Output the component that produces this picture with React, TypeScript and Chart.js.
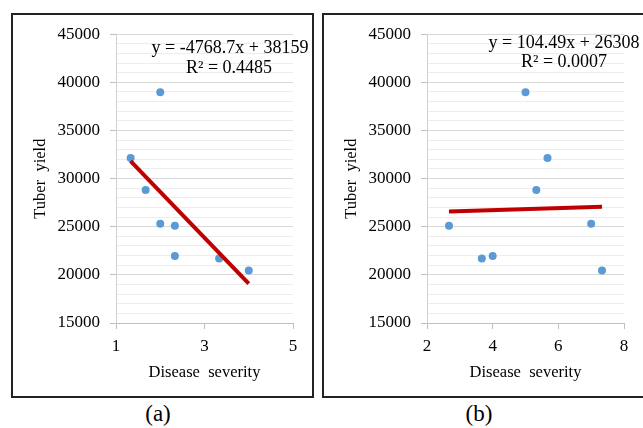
import React, { useEffect, useRef } from "react";
import { Chart, registerables } from "chart.js";

Chart.register(...registerables);

// ---- data ----
const severityA = [1.33, 1.67, 2.0, 2.0, 2.33, 2.33, 3.33, 4.0];
const severityB = [5.67, 5.33, 5.0, 7.0, 2.67, 4.0, 3.67, 7.33];
const tuberYield = [32140, 28820, 38970, 25300, 25100, 21950, 21700, 20450];

const slopeA = -4768.7;
const interceptA = 38159;
const r2A = "0.4485";
const slopeB = 104.49;
const interceptB = 26308;
const r2B = "0.0007";

const yMin = 15000;
const yMax = 45000;
const yMajorStep = 5000;
const yMinorStep = 1000;
const xRangeA = [1, 5];
const xRangeB = [2, 8];
const xStep = 2;

const FONT = '"Liberation Serif", "Times New Roman", serif';

const eqPlugin = {
  id: "eqText",
  afterDatasetsDraw(chart: any, _args: any, opts: any) {
    const ctx = chart.ctx;
    ctx.save();
    ctx.font = `18px ${FONT}`;
    ctx.fillStyle = "#000";
    ctx.textAlign = "center";
    ctx.textBaseline = "middle";
    (opts.lines || []).forEach((l: any) => ctx.fillText(l.text, l.x, l.y));
    ctx.restore();
  },
};

function eqString(slope: number, intercept: number) {
  const s = slope < 0 ? `-${Math.abs(slope)}` : `${slope}`;
  return `y = ${s}x + ${intercept}`;
}

type PanelProps = {
  left: number;
  width: number;
  xs: number[];
  slope: number;
  intercept: number;
  r2: string;
  xRange: number[];
  eqPos: { x: number; y: number; rx: number; ry: number };
};

function Panel({ left, width, xs, slope, intercept, r2, xRange, eqPos }: PanelProps) {
  const ref = useRef<HTMLCanvasElement>(null);
  useEffect(() => {
    if (!ref.current) return;
    const pts = xs.map((x, i) => ({ x, y: tuberYield[i] }));
    const lo = Math.min(...xs);
    const hi = Math.max(...xs);
    const trend = [
      { x: lo, y: intercept + slope * lo },
      { x: hi, y: intercept + slope * hi },
    ];
    const tickFont = { family: FONT, size: 17, lineHeight: 1.2 };
    const titleFont = { family: FONT, size: 16.5, lineHeight: 1.2 };
    const chart = new Chart(ref.current, {
      type: "scatter",
      data: {
        datasets: [
          {
            data: trend,
            showLine: true,
            borderColor: "#c00000",
            borderWidth: 4,
            pointRadius: 0,
            order: 0,
          } as any,
          {
            data: pts,
            backgroundColor: "#5b9bd5",
            borderWidth: 0,
            pointRadius: 4,
            order: 1,
          } as any,
        ],
      },
      options: {
        animation: false,
        responsive: false,
        events: [],
        layout: { padding: { top: 18, right: 19, left: 0, bottom: 0 } },
        plugins: {
          legend: { display: false },
          tooltip: { enabled: false },
          eqText: {
            lines: [
              { text: eqString(slope, intercept), x: eqPos.x, y: eqPos.y },
              { text: `R² = ${r2}`, x: eqPos.rx, y: eqPos.ry },
            ],
          },
        } as any,
        scales: {
          x: {
            type: "linear",
            min: xRange[0],
            max: xRange[1],
            ticks: { stepSize: xStep, padding: 7, font: tickFont, color: "#000" },
            grid: { drawOnChartArea: false, tickLength: 6, tickColor: "#bfbfbf" },
            border: { color: "#bfbfbf", width: 1 },
            title: {
              display: true,
              text: "Disease  severity",
              font: titleFont,
              color: "#000",
              padding: { top: 0, bottom: 14 },
            },
            afterFit: (s: any) => {
              s.height = 74;
            },
          },
          y: {
            type: "linear",
            min: yMin,
            max: yMax,
            ticks: {
              stepSize: yMinorStep,
              autoSkip: false,
              padding: 10,
              font: tickFont,
              color: "#000",
              callback: (v: any) => (Number(v) % yMajorStep === 0 ? String(v) : ""),
            },
            grid: {
              color: (c: any) =>
                c.tick && c.tick.value % yMajorStep === 0 ? "#d9d9d9" : "#ededed",
              tickColor: (c: any) =>
                c.tick && c.tick.value % yMajorStep === 0 ? "#bfbfbf" : "rgba(0,0,0,0)",
              tickLength: 6,
            },
            border: { color: "#d0d0d0", width: 1 },
            title: {
              display: true,
              text: "Tuber  yield",
              font: titleFont,
              color: "#000",
              padding: { top: 19, bottom: 0 },
            },
            afterFit: (s: any) => {
              s.width = 104;
            },
          },
        },
      },
      plugins: [eqPlugin],
    } as any);
    return () => chart.destroy();
  }, []);
  return (
    <canvas
      ref={ref}
      width={width}
      height={383}
      style={{ position: "absolute", left, top: 14, width, height: 383, display: "block" }}
    />
  );
}

export default function App() {
  return (
    <div
      style={{
        position: "fixed",
        left: 0,
        top: 0,
        width: 643,
        height: 428,
        background: "#fff",
        overflow: "hidden",
        fontFamily: FONT,
      }}
    >
      <div
        style={{
          position: "absolute",
          left: 11,
          top: 13,
          width: 303,
          height: 385,
          border: "2px solid #222",
          boxSizing: "border-box",
        }}
      />
      <div
        style={{
          position: "absolute",
          left: 322,
          top: 13,
          width: 340,
          height: 385,
          border: "2px solid #222",
          boxSizing: "border-box",
        }}
      />
      <Panel
        left={12}
        width={300}
        xs={severityA}
        slope={slopeA}
        intercept={interceptA}
        r2={r2A}
        xRange={xRangeA}
        eqPos={{ x: 218, y: 34, rx: 217, ry: 54 }}
      />
      <Panel
        left={323}
        width={320}
        xs={severityB}
        slope={slopeB}
        intercept={interceptB}
        r2={r2B}
        xRange={xRangeB}
        eqPos={{ x: 241, y: 29, rx: 241, ry: 48 }}
      />
      <div
        style={{
          position: "absolute",
          left: 118,
          top: 400,
          width: 80,
          textAlign: "center",
          fontSize: 23,
          lineHeight: "28px",
        }}
      >
        (a)
      </div>
      <div
        style={{
          position: "absolute",
          left: 439,
          top: 400,
          width: 80,
          textAlign: "center",
          fontSize: 23,
          lineHeight: "28px",
        }}
      >
        (b)
      </div>
    </div>
  );
}
